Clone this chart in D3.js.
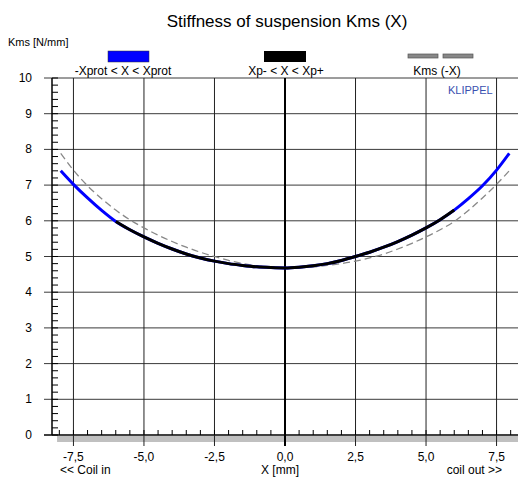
<!DOCTYPE html>
<meta charset="utf-8">
<script src="https://d3js.org/d3.v7.min.js"></script>
<style>
  body { margin: 0; background: #fff; }
  text { font-family: Arial, "Liberation Sans", sans-serif; }
</style>
<div id="my_dataviz"></div>
<script>

// data
var xValues = [-7.95, -7.5, -7, -6.5, -6, -5.5, -5, -4.5, -4, -3.5, -3, -2.5, -2, -1.5, -1, -0.5,
               0, 0.5, 1, 1.5, 2, 2.5, 3, 3.5, 4, 4.5, 5, 5.5, 6, 6.5, 7, 7.5, 7.95];
var kmsValues = [7.40, 7.02, 6.64, 6.29, 5.98, 5.75, 5.55, 5.37, 5.21, 5.07, 4.96, 4.87, 4.80, 4.75, 4.71, 4.69,
                 4.68, 4.70, 4.74, 4.80, 4.89, 5.00, 5.12, 5.26, 5.42, 5.60, 5.80, 6.03, 6.30, 6.62, 6.98, 7.42, 7.89];
var xpMinus = -6.0, xpPlus = 6.0;
var xTicks = [-7.5, -5, -2.5, 0, 2.5, 5, 7.5];
var yTicks = [0, 1, 2, 3, 4, 5, 6, 7, 8, 9, 10];
var legendLabels = ["-Xprot < X < Xprot", "Xp- < X < Xp+", "Kms (-X)"];

var W = 518, H = 480;
var margin = {top: 78, right: 0, bottom: 45, left: 52};

var svg = d3.select("#my_dataviz")
  .append("svg")
    .attr("width", W)
    .attr("height", H);

var x = d3.scaleLinear().domain([-8.26, 8.26]).range([margin.left, W - margin.right]);
var y = d3.scaleLinear().domain([0, 10]).range([H - margin.bottom, margin.top]);

var data = xValues.map(function(d, i) { return {x: d, k: kmsValues[i]}; });
var mirror = data.map(function(d) { return {x: -d.x, k: d.k}; }).reverse();

// gray band below the x axis
svg.append("rect")
  .attr("x", x(-8.08)).attr("y", y(0) + 1)
  .attr("width", x(8.26) - x(-8.08)).attr("height", 6)
  .attr("fill", "#c0c0c0");

// grid
svg.selectAll(".hgrid").data(yTicks).enter().append("line")
  .attr("x1", margin.left - 8).attr("x2", W)
  .attr("y1", function(d) { return y(d); }).attr("y2", function(d) { return y(d); })
  .attr("stroke", function(d) { return d == 0 ? "#000" : "#3a3a3a"; })
  .attr("stroke-width", function(d) { return d == 0 ? 1.5 : 1; });

svg.selectAll(".vgrid").data(xTicks).enter().append("line")
  .attr("x1", function(d) { return x(d); }).attr("x2", function(d) { return x(d); })
  .attr("y1", y(10)).attr("y2", y(0) + 11)
  .attr("stroke", function(d) { return d == 0 ? "#000" : "#222"; })
  .attr("stroke-width", function(d) { return d == 0 ? 2 : 1; });

// y axis line + minor ticks
svg.append("line")
  .attr("x1", margin.left).attr("x2", margin.left)
  .attr("y1", y(10)).attr("y2", y(0))
  .attr("stroke", "#000").attr("stroke-width", 1.5);

svg.selectAll(".yminor").data(d3.range(0, 10.01, 0.2)).enter().append("line")
  .attr("x1", margin.left).attr("x2", margin.left + 6)
  .attr("y1", function(d) { return y(d); }).attr("y2", function(d) { return y(d); })
  .attr("stroke", "#000");

// x minor ticks
svg.selectAll(".xminor").data(d3.range(-8, 8.01, 0.5)).enter().append("line")
  .attr("x1", function(d) { return x(d); }).attr("x2", function(d) { return x(d); })
  .attr("y1", y(0)).attr("y2", y(0) - 5)
  .attr("stroke", "#000");

// tick labels
svg.selectAll(".ylab").data(yTicks).enter().append("text")
  .attr("x", 32).attr("y", function(d) { return y(d) + 4; })
  .attr("text-anchor", "end")
  .style("font-size", "12px")
  .text(function(d) { return d; });

svg.selectAll(".xlab").data(xTicks).enter().append("text")
  .attr("x", function(d) { return x(d); }).attr("y", 461)
  .attr("text-anchor", "middle")
  .style("font-size", "12px")
  .text(function(d) { return d3.format(".1f")(d).replace(".", ",").replace("−", "-"); });

// curves
var line = d3.line()
  .x(function(d) { return x(d.x); })
  .y(function(d) { return y(d.k); })
  .curve(d3.curveMonotoneX);

svg.append("path").datum(mirror)
  .attr("d", line).attr("fill", "none")
  .attr("stroke", "#888").attr("stroke-width", 1.3)
  .attr("stroke-dasharray", "7,4");

svg.append("path").datum(data)
  .attr("d", line).attr("fill", "none")
  .attr("stroke", "#0000ff").attr("stroke-width", 3);

svg.append("path").datum(data.filter(function(d) { return d.x >= xpMinus && d.x <= xpPlus; }))
  .attr("d", line).attr("fill", "none")
  .attr("stroke", "#000").attr("stroke-width", 3);

// legend
svg.append("rect").attr("x", 108).attr("y", 51).attr("width", 41).attr("height", 11)
  .attr("fill", "#0000ff").attr("stroke", "#333").attr("stroke-width", 0.5);
svg.append("rect").attr("x", 264).attr("y", 51).attr("width", 42).attr("height", 11)
  .attr("fill", "#000");
[408, 443].forEach(function(lx) {
  svg.append("rect").attr("x", lx).attr("y", 54).attr("width", 30).attr("height", 4)
    .attr("fill", "#888").attr("stroke", "#555").attr("stroke-width", 0.7);
});

var legX = [123, 286, 437];
legendLabels.forEach(function(t, i) {
  svg.append("text").attr("x", legX[i]).attr("y", 75)
    .attr("text-anchor", "middle").style("font-size", "12px").text(t);
});

// titles
svg.append("text")
  .attr("x", 287).attr("y", 27)
  .attr("text-anchor", "middle")
  .style("font-size", "17px")
  .text("Stiffness of suspension Kms (X)");

svg.append("text").attr("x", 8).attr("y", 46)
  .style("font-size", "11px").text("Kms [N/mm]");

svg.append("text").attr("x", 448).attr("y", 94)
  .style("font-size", "11px").attr("fill", "#3a4fb0").text("KLIPPEL");

svg.append("text").attr("x", 60).attr("y", 474)
  .style("font-size", "12px").text("<< Coil in");
svg.append("text").attr("x", 280).attr("y", 474)
  .attr("text-anchor", "middle").style("font-size", "12px").text("X [mm]");
svg.append("text").attr("x", 502).attr("y", 474)
  .attr("text-anchor", "end").style("font-size", "12px").text("coil out >>");

</script>
